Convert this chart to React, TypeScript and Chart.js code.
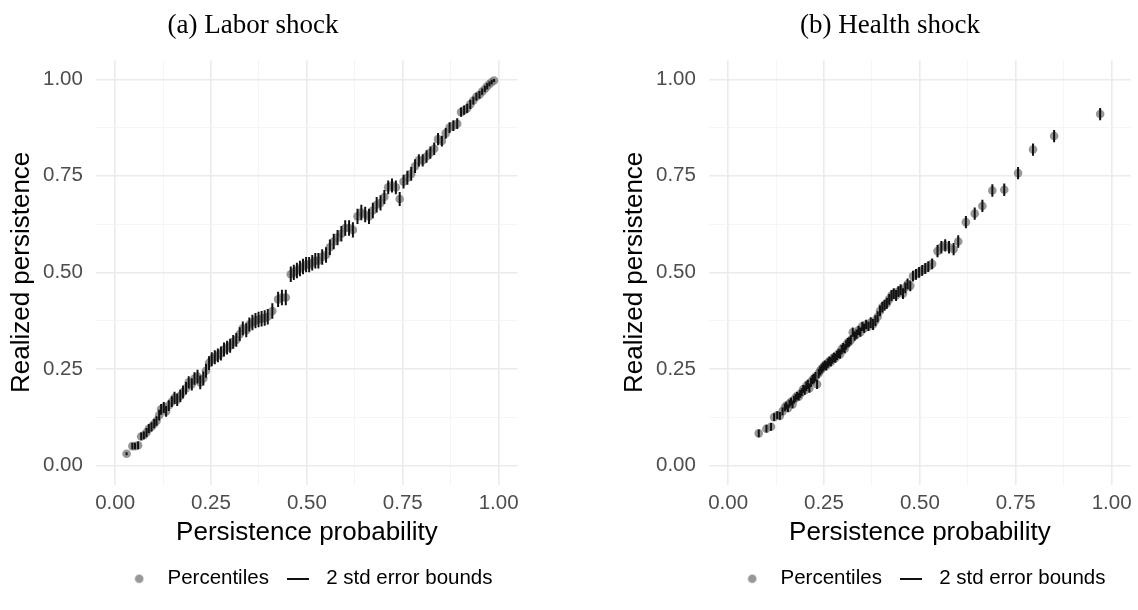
import React, { useEffect, useRef } from "react";
import { Chart, registerables } from "chart.js";

Chart.register(...registerables);

// ---------- axes / labels ----------
const tickValues = [0, 0.125, 0.25, 0.375, 0.5, 0.625, 0.75, 0.875, 1];
const majorTicks = [0, 0.25, 0.5, 0.75, 1];
const axisRange = [-0.05, 1.05];
const seriesLabels = ["Percentiles", "2 std error bounds"];
const panelTitles = ["(a) Labor shock", "(b) Health shock"];
const xTitle = "Persistence probability";
const yTitle = "Realized persistence";

// ---------- (a) Labor shock ----------
const laborProb = [
  0.030, 0.045, 0.052, 0.060, 0.068, 0.075, 0.082, 0.088, 0.095, 0.102,
  0.108, 0.115, 0.120, 0.127, 0.133, 0.140, 0.148, 0.155, 0.162, 0.170,
  0.177, 0.185, 0.192, 0.200, 0.207, 0.215, 0.222, 0.230, 0.237, 0.245,
  0.252, 0.260, 0.268, 0.276, 0.284, 0.292, 0.300, 0.308, 0.316, 0.325,
  0.333, 0.342, 0.350, 0.358, 0.366, 0.374, 0.382, 0.390, 0.398, 0.410,
  0.425, 0.435, 0.445, 0.458, 0.466, 0.474, 0.482, 0.490, 0.498, 0.506,
  0.514, 0.522, 0.530, 0.540, 0.550, 0.560, 0.570, 0.580, 0.590, 0.600,
  0.610, 0.620, 0.632, 0.642, 0.652, 0.662, 0.672, 0.682, 0.692, 0.702,
  0.712, 0.722, 0.732, 0.742, 0.752, 0.762, 0.772, 0.782, 0.792, 0.802,
  0.812, 0.822, 0.832, 0.842, 0.852, 0.862, 0.872, 0.882, 0.892, 0.902,
  0.910, 0.918, 0.926, 0.934, 0.942, 0.950, 0.957, 0.964, 0.970, 0.976,
  0.982, 0.988,
];
const laborReal = [
  0.030, 0.050, 0.050, 0.052, 0.075, 0.078, 0.085, 0.095, 0.100, 0.108,
  0.115, 0.130, 0.145, 0.150, 0.140, 0.155, 0.165, 0.175, 0.170, 0.180,
  0.190, 0.200, 0.215, 0.210, 0.225, 0.230, 0.215, 0.225, 0.245, 0.265,
  0.275, 0.280, 0.285, 0.290, 0.300, 0.305, 0.310, 0.320, 0.325, 0.340,
  0.355, 0.350, 0.365, 0.370, 0.375, 0.378, 0.380, 0.382, 0.385, 0.400,
  0.430, 0.435, 0.435, 0.495, 0.500, 0.505, 0.510, 0.515, 0.520, 0.520,
  0.525, 0.530, 0.530, 0.540, 0.545, 0.565, 0.580, 0.590, 0.600, 0.615,
  0.615, 0.610, 0.645, 0.655, 0.650, 0.645, 0.660, 0.675, 0.680, 0.695,
  0.720, 0.725, 0.720, 0.690, 0.735, 0.745, 0.755, 0.775, 0.790, 0.790,
  0.800, 0.810, 0.820, 0.845, 0.840, 0.860, 0.875, 0.880, 0.885, 0.915,
  0.920, 0.925, 0.935, 0.945, 0.955, 0.960, 0.968, 0.975, 0.982, 0.988,
  0.993, 0.997,
];
const laborSe = [
  0.002, 0.004, 0.004, 0.005, 0.005, 0.005, 0.006, 0.006, 0.006, 0.006,
  0.006, 0.007, 0.007, 0.007, 0.007, 0.007, 0.007, 0.008, 0.008, 0.008,
  0.008, 0.008, 0.008, 0.008, 0.008, 0.009, 0.009, 0.009, 0.009, 0.009,
  0.009, 0.009, 0.009, 0.009, 0.009, 0.009, 0.009, 0.009, 0.009, 0.009,
  0.009, 0.009, 0.009, 0.010, 0.010, 0.010, 0.010, 0.010, 0.010, 0.010,
  0.010, 0.010, 0.010, 0.010, 0.010, 0.010, 0.010, 0.010, 0.010, 0.010,
  0.010, 0.010, 0.010, 0.010, 0.010, 0.010, 0.010, 0.010, 0.010, 0.010,
  0.010, 0.010, 0.010, 0.010, 0.010, 0.010, 0.010, 0.010, 0.010, 0.009,
  0.009, 0.009, 0.009, 0.009, 0.009, 0.009, 0.009, 0.009, 0.008, 0.008,
  0.008, 0.008, 0.008, 0.008, 0.007, 0.007, 0.007, 0.007, 0.007, 0.006,
  0.006, 0.006, 0.006, 0.005, 0.005, 0.005, 0.004, 0.004, 0.004, 0.003,
  0.003, 0.002,
];

// ---------- (b) Health shock ----------
const healthProb = [
  0.080, 0.100, 0.112, 0.120, 0.128, 0.135, 0.142, 0.148, 0.152, 0.156,
  0.160, 0.164, 0.168, 0.172, 0.176, 0.180, 0.184, 0.188, 0.192, 0.196,
  0.200, 0.204, 0.208, 0.212, 0.216, 0.220, 0.224, 0.228, 0.232, 0.236,
  0.240, 0.244, 0.248, 0.252, 0.256, 0.260, 0.264, 0.268, 0.272, 0.276,
  0.280, 0.284, 0.288, 0.292, 0.296, 0.300, 0.304, 0.308, 0.312, 0.316,
  0.320, 0.325, 0.330, 0.335, 0.340, 0.345, 0.350, 0.355, 0.360, 0.366,
  0.372, 0.378, 0.384, 0.390, 0.396, 0.402, 0.408, 0.414, 0.420, 0.426,
  0.432, 0.438, 0.444, 0.450, 0.456, 0.462, 0.468, 0.475, 0.482, 0.490,
  0.498, 0.506, 0.514, 0.522, 0.532, 0.546, 0.556, 0.566, 0.576, 0.588,
  0.600, 0.620, 0.643, 0.663, 0.689, 0.720, 0.756, 0.795, 0.850, 0.970,
];
const healthReal = [
  0.083, 0.095, 0.100, 0.125, 0.130, 0.128, 0.140, 0.150, 0.155, 0.148,
  0.160, 0.165, 0.158, 0.170, 0.175, 0.180, 0.178, 0.185, 0.190, 0.198,
  0.195, 0.205, 0.210, 0.200, 0.215, 0.222, 0.225, 0.230, 0.210, 0.238,
  0.245, 0.250, 0.255, 0.260, 0.258, 0.265, 0.270, 0.268, 0.275, 0.280,
  0.278, 0.285, 0.290, 0.288, 0.300, 0.305, 0.302, 0.312, 0.318, 0.320,
  0.325, 0.345, 0.335, 0.340, 0.350, 0.345, 0.360, 0.355, 0.365, 0.360,
  0.370, 0.365, 0.375, 0.385, 0.400, 0.410, 0.415, 0.420, 0.430, 0.440,
  0.445, 0.440, 0.450, 0.455, 0.445, 0.460, 0.470, 0.465, 0.490, 0.495,
  0.500, 0.505, 0.510, 0.515, 0.522, 0.555, 0.565, 0.570, 0.565, 0.560,
  0.580, 0.630, 0.652, 0.672, 0.712, 0.714, 0.757, 0.818, 0.853, 0.910,
];
const healthSe = [
  0.005, 0.005, 0.005, 0.005, 0.005, 0.005, 0.005, 0.005, 0.005, 0.005,
  0.005, 0.005, 0.005, 0.005, 0.005, 0.005, 0.005, 0.005, 0.005, 0.005,
  0.006, 0.006, 0.006, 0.006, 0.006, 0.006, 0.006, 0.006, 0.006, 0.006,
  0.006, 0.006, 0.006, 0.006, 0.006, 0.006, 0.006, 0.006, 0.006, 0.006,
  0.006, 0.006, 0.006, 0.006, 0.006, 0.006, 0.006, 0.006, 0.006, 0.006,
  0.006, 0.006, 0.006, 0.006, 0.006, 0.006, 0.006, 0.006, 0.006, 0.006,
  0.007, 0.007, 0.007, 0.007, 0.007, 0.007, 0.007, 0.007, 0.007, 0.007,
  0.007, 0.007, 0.007, 0.007, 0.007, 0.007, 0.007, 0.007, 0.007, 0.007,
  0.007, 0.007, 0.007, 0.007, 0.007, 0.008, 0.008, 0.008, 0.008, 0.008,
  0.008, 0.008, 0.008, 0.008, 0.008, 0.008, 0.008, 0.008, 0.008, 0.008,
];

// ---------- styles ----------
const SANS = "'Liberation Sans', Arial, Helvetica, sans-serif";
const SERIF = "'Liberation Serif', 'Times New Roman', serif";
const POINT_COLOR = "rgba(125,125,125,0.8)";
const BAR_COLOR = "#111111";
const TICK_COLOR = "#4D4D4D";

const isMajor = (v: number) => majorTicks.some((m) => Math.abs(m - v) < 1e-9);

function Panel({ prob, real, se }: { prob: number[]; real: number[]; se: number[] }) {
  const ref = useRef<HTMLCanvasElement>(null);

  useEffect(() => {
    const canvas = ref.current;
    if (!canvas) return;

    const points = prob.map((x, i) => ({ x, y: real[i] }));
    const bars: { x: number; y: number | null }[] = [];
    prob.forEach((x, i) => {
      bars.push({ x, y: real[i] - 2 * se[i] });
      bars.push({ x, y: real[i] + 2 * se[i] });
      bars.push({ x, y: null });
    });

    // legend symbols
    const dot = document.createElement("canvas");
    dot.width = 10;
    dot.height = 10;
    const dctx = dot.getContext("2d")!;
    dctx.fillStyle = POINT_COLOR;
    dctx.beginPath();
    dctx.arc(5, 5, 4.3, 0, Math.PI * 2);
    dctx.fill();
    const dash = document.createElement("canvas");
    dash.width = 22;
    dash.height = 2;
    const lctx = dash.getContext("2d")!;
    lctx.fillStyle = BAR_COLOR;
    lctx.fillRect(0, 0, 22, 2);

    const grid = {
      drawTicks: false,
      color: (c: any) => (isMajor(c.tick?.value) ? "#EBEBEB" : "#F4F4F4"),
      lineWidth: (c: any) => (isMajor(c.tick?.value) ? 1.6 : 0.9),
    };
    const tickCb = (v: any) => (isMajor(Number(v)) ? Number(v).toFixed(2) : "");
    const setTicks = (s: any) => {
      s.ticks = tickValues.map((v) => ({ value: v }));
    };

    const chart = new Chart(canvas, {
      type: "scatter",
      data: {
        datasets: [
          {
            type: "scatter",
            label: seriesLabels[0],
            data: points,
            pointRadius: 4.3,
            pointHoverRadius: 4.3,
            backgroundColor: POINT_COLOR,
            borderWidth: 0,
            order: 2,
          } as any,
          {
            type: "line",
            label: seriesLabels[1],
            data: bars,
            borderColor: BAR_COLOR,
            borderWidth: 2,
            pointRadius: 0,
            pointHoverRadius: 0,
            fill: false,
            spanGaps: false,
            tension: 0,
            order: 1,
          } as any,
        ],
      },
      options: {
        responsive: false,
        animation: false,
        events: [],
        layout: { padding: { left: 0, right: 0, top: 60, bottom: 11 } },
        scales: {
          x: {
            type: "linear",
            min: axisRange[0],
            max: axisRange[1],
            afterBuildTicks: setTicks,
            border: { display: false },
            grid,
            ticks: {
              callback: tickCb,
              autoSkip: false,
              maxRotation: 0,
              padding: 6.2,
              color: TICK_COLOR,
              font: { family: SANS, size: 20.5 },
            },
            title: {
              display: true,
              text: xTitle,
              color: "#000",
              font: { family: SANS, size: 26 },
              padding: { top: -4.6, bottom: 9.2 },
            },
          },
          y: {
            type: "linear",
            min: axisRange[0],
            max: axisRange[1],
            afterBuildTicks: setTicks,
            border: { display: false },
            grid,
            ticks: {
              callback: tickCb,
              autoSkip: false,
              padding: 13,
              color: TICK_COLOR,
              font: { family: SANS, size: 20.5 },
            },
            title: {
              display: true,
              text: yTitle,
              color: "#000",
              font: { family: SANS, size: 26 },
              padding: { top: 6.4, bottom: -7.6 },
            },
          },
        },
        plugins: {
          tooltip: { enabled: false },
          title: { display: false },
          legend: {
            display: true,
            position: "bottom",
            fullSize: false,
            labels: {
              usePointStyle: true,
              pointStyleWidth: 36,
              padding: 11,
              color: "#000",
              font: { family: SANS, size: 20.5 },
              generateLabels: (ch: any) => [
                {
                  text: ch.data.datasets[0].label,
                  pointStyle: dot,
                  fillStyle: POINT_COLOR,
                  strokeStyle: POINT_COLOR,
                  lineWidth: 0,
                  hidden: false,
                  datasetIndex: 0,
                  fontColor: "#000",
                },
                {
                  text: ch.data.datasets[1].label,
                  pointStyle: dash,
                  fillStyle: BAR_COLOR,
                  strokeStyle: BAR_COLOR,
                  lineWidth: 0,
                  hidden: false,
                  datasetIndex: 1,
                  fontColor: "#000",
                },
              ],
            },
          },
        },
      },
    });

    return () => chart.destroy();
  }, [prob, real, se]);

  return <canvas ref={ref} width={525} height={610} style={{ display: "block" }} />;
}

const titleStyle: React.CSSProperties = {
  position: "absolute",
  top: 11,
  width: 300,
  textAlign: "center",
  fontFamily: SERIF,
  fontSize: 27,
  lineHeight: "27px",
  color: "#000",
  whiteSpace: "nowrap",
};

export default function App() {
  return (
    <div style={{ position: "absolute", left: 0, top: 0, width: 1138, height: 610, background: "#fff", overflow: "hidden" }}>
      <div style={{ position: "absolute", left: 0, top: 0 }}>
        <Panel prob={laborProb} real={laborReal} se={laborSe} />
      </div>
      <div style={{ position: "absolute", left: 613, top: 0 }}>
        <Panel prob={healthProb} real={healthReal} se={healthSe} />
      </div>
      <div style={{ ...titleStyle, left: 103 }}>{panelTitles[0]}</div>
      <div style={{ ...titleStyle, left: 740 }}>{panelTitles[1]}</div>
    </div>
  );
}
